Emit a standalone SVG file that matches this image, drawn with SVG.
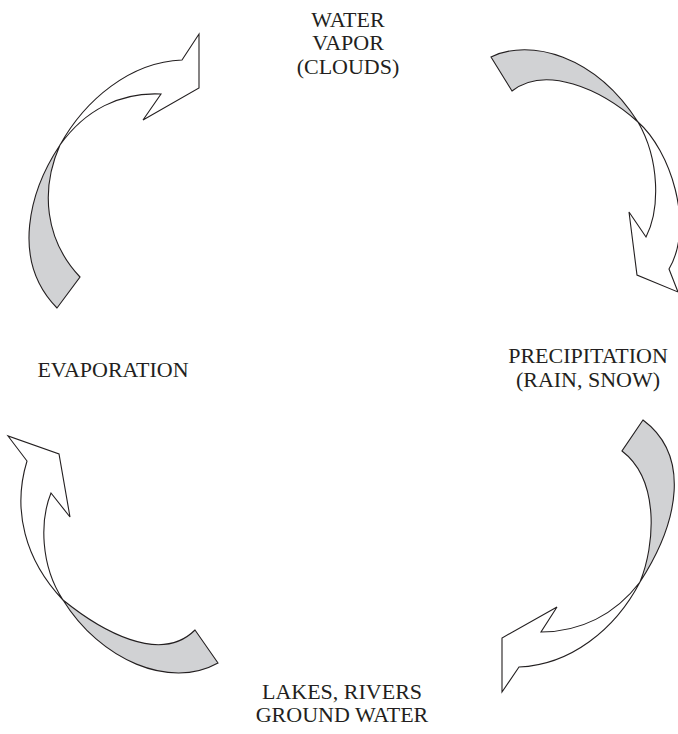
<svg xmlns="http://www.w3.org/2000/svg" width="678" height="734" viewBox="0 0 678 734">
<style>
.w{fill:#ffffff;stroke:#231f20;stroke-width:1.1;stroke-linejoin:miter}
.g{fill:#d1d2d4;stroke:#231f20;stroke-width:1.1}
text{font-family:"Liberation Serif","Times New Roman",serif;font-size:22px;fill:#231f20;text-anchor:middle}
</style>
<rect width="678" height="734" fill="#ffffff"/>
<g id="connectors">
<g id="arrow-evap-to-vapor">
<path class="g" d="M60,145 C30,190 10,260 57,308 L80,277 C45,240 40,190 60,145 Z"/>
<path class="w" d="M60,145 C85,100 130,62 182,60 L199,34 L199,88 L143,120 L161,94 C120,92 85,110 60,145 Z"/>
</g>
<g id="arrow-vapor-to-precip">
<path class="g" d="M491,57 C530,38 595,55 638,122 C600,88 545,65 512,91 Z"/>
<path class="w" d="M638,122 C670,150 695,225 669,269 L678,292 L637,275 L629,212 L646,237 C660,210 660,160 638,122 Z"/>
</g>
<g id="arrow-precip-to-lakes">
<path class="g" d="M643,420 C690,455 680,520 640,582 C655,545 660,480 622,451 Z"/>
<path class="w" d="M640,582 C615,615 580,632 541,632 L557,607 L502,638 L502,692 L519,667 C570,665 615,630 640,582 Z"/>
</g>
<g id="arrow-lakes-to-evap">
<path class="g" d="M63,600 C100,630 160,665 195,630 L218,663 C170,690 100,660 63,600 Z"/>
<path class="w" d="M63,600 C25,560 12,510 27,461 L8,436 L59,454 L70,517 L51,493 C40,520 40,565 63,600 Z"/>
</g>
</g>
<g id="node-vapor">
<text x="348" y="27">WATER</text>
<text x="348" y="50">VAPOR</text>
<text x="348" y="74">(CLOUDS)</text>
</g>
<g id="node-precip">
<text x="588" y="363">PRECIPITATION</text>
<text x="588" y="387">(RAIN, SNOW)</text>
</g>
<g id="node-lakes">
<text x="342" y="699">LAKES, RIVERS</text>
<text x="342" y="722">GROUND WATER</text>
</g>
<g id="node-evap">
<text x="113" y="377">EVAPORATION</text>
</g>
</svg>
